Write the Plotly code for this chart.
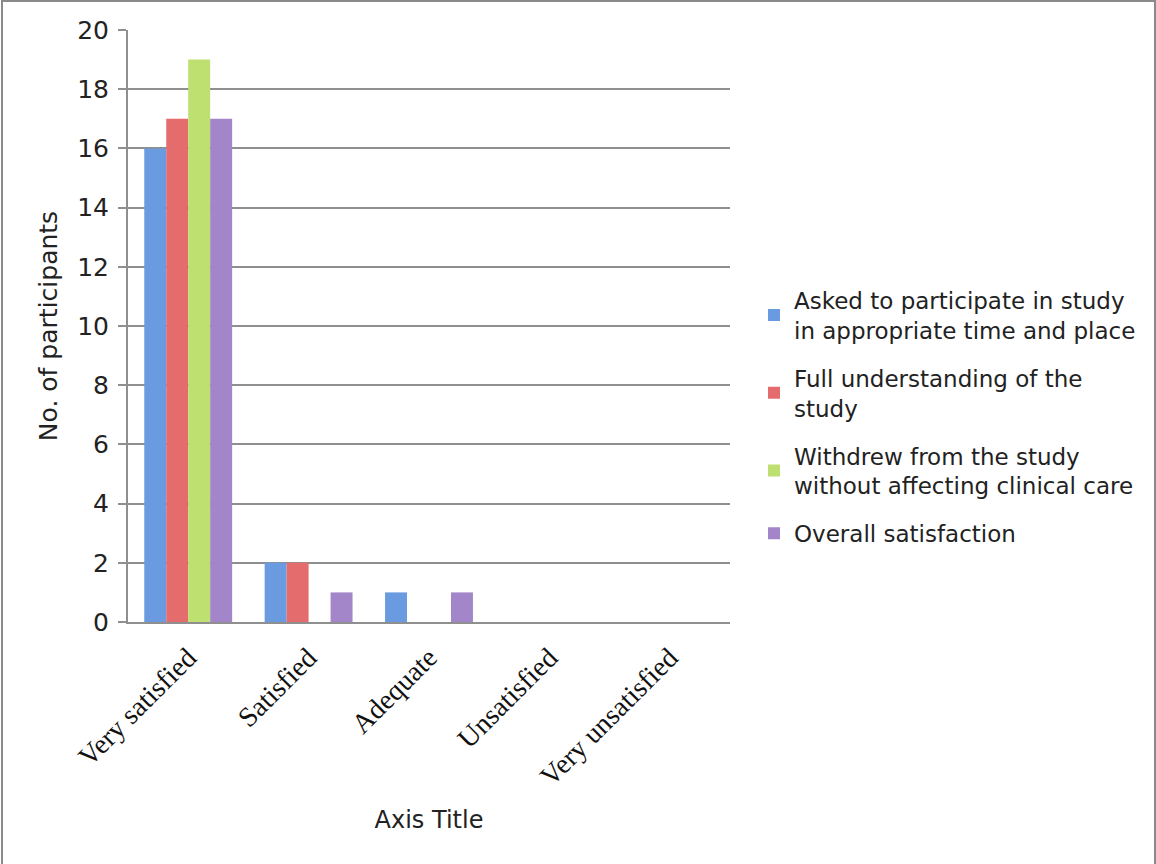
import plotly.graph_objects as go

categories = ["Very satisfied", "Satisfied", "Adequate", "Unsatisfied", "Very unsatisfied"]
series_names = [
    "Asked to participate in study<br>in appropriate time and place",
    "Full understanding of the<br>study",
    "Withdrew from the study<br>without affecting clinical care",
    "Overall satisfaction",
]
asked_values = [16, 2, 1, 0, 0]
understanding_values = [17, 2, 0, 0, 0]
withdrew_values = [19, 0, 0, 0, 0]
overall_values = [17, 1, 1, 0, 0]
y_ticks = [0, 2, 4, 6, 8, 10, 12, 14, 16, 18, 20]

colors = ["#6a9be0", "#e46c6c", "#bde070", "#a386c9"]
all_values = [asked_values, understanding_values, withdrew_values, overall_values]

W, H = 1156, 864
L, R, T, B = 128, 426, 30, 242

fig = go.Figure()
for i, (name, vals) in enumerate(zip(series_names, all_values)):
    fig.add_trace(go.Bar(
        x=categories, y=vals, name=name,
        marker=dict(color=colors[i], line=dict(width=0)),
        legendgroup=str(i),
    ))

sans = "DejaVu Sans"
serif = "Liberation Serif"
grid_col = "#8f8f8f"

fig.update_layout(
    width=W, height=H,
    margin=dict(l=L, r=R, t=T, b=B, autoexpand=False),
    paper_bgcolor="white", plot_bgcolor="white",
    barmode="group", bargap=0.27, bargroupgap=0,
    font=dict(family=sans, size=24, color="#222"),
    showlegend=True,
    legend=dict(
        x=(754 - L) / (W - L - R), xanchor="left",
        y=(622 - 417) / (H - T - B), yanchor="middle",
        font=dict(family=sans, size=23, color="#222"),
        tracegroupgap=15, bgcolor="rgba(0,0,0,0)",
        itemclick=False,
    ),
    xaxis=dict(
        type="category", tickangle=-45,
        tickfont=dict(family=serif, size=28, color="#111"),
        showline=True, linecolor=grid_col, linewidth=2,
        showgrid=False, ticks="",
        ticklabelstandoff=6,
        title=dict(text="Axis Title", font=dict(family=sans, size=24, color="#222"), standoff=20),
        automargin=False,
    ),
    yaxis=dict(
        range=[0, 20], tickvals=y_ticks,
        showgrid=True, gridcolor=grid_col, gridwidth=2,
        showline=True, linecolor=grid_col, linewidth=2,
        ticks="outside", ticklen=8, tickcolor=grid_col, tickwidth=2,
        ticklabelstandoff=4,
        tickfont=dict(family=sans, size=25, color="#222"),
        zeroline=False,
        title=dict(text="No. of participants", font=dict(family=sans, size=25, color="#222"), standoff=12),
        automargin=False,
    ),
)

pw = W - L - R
ph = H - T - B
fig.add_shape(
    type="rect", xref="paper", yref="paper",
    x0=(2 - L) / pw, x1=(1155 - L) / pw,
    y0=(622 - 900) / ph, y1=(622 - 1) / ph,
    line=dict(color="#8a8a8a", width=2), fillcolor="rgba(0,0,0,0)", layer="below",
)

fig.write_html(
    "out.html",
    config={"displayModeBar": False},
    post_script="document.body.style.margin='0';document.body.style.overflow='hidden';",
)
